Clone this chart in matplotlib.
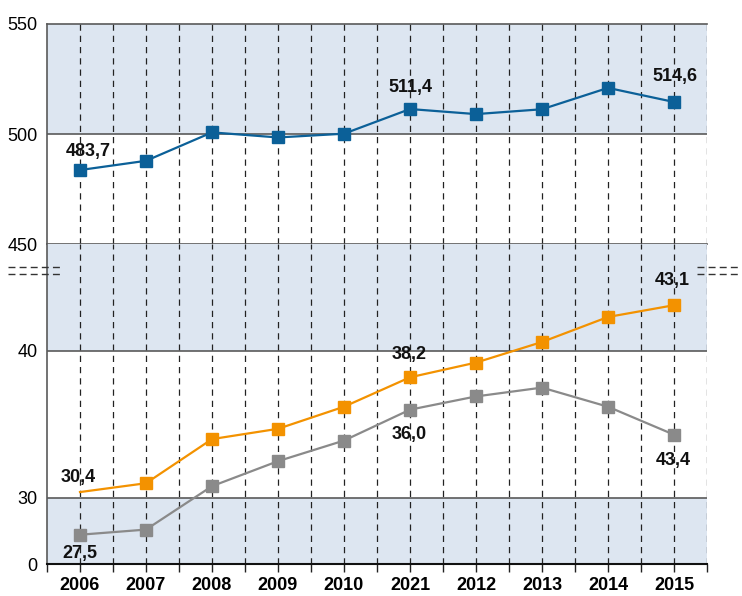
import numpy as np
import matplotlib.pyplot as plt
from matplotlib.lines import Line2D

# data
years = ['2006', '2007', '2008', '2009', '2010', '2021', '2012', '2013', '2014', '2015']
blue = [483.7, 487.9, 500.8, 498.5, 500.2, 511.4, 509.1, 511.3, 521.0, 514.6]
orange = [30.4, 31.0, 34.0, 34.7, 36.2, 38.2, 39.2, 40.6, 42.3, 43.1]
gray = [27.5, 27.85, 30.8, 32.5, 33.9, 36.0, 36.9, 37.5, 36.2, 34.3]

# labels as printed on the chart: (index, text, offset px)
labels_blue = [(0, '483,7', 8, 19), (5, '511,4', 0, 22), (9, '514,6', 1, 25)]
labels_orange = [(0, '30,4', -2, 15), (5, '38,2', -1, 23), (9, '43,1', -2, 25)]
labels_gray = [(0, '27,5', 0, -19), (5, '36,0', -1, -25), (9, '43,4', -1, -26)]

top_ticks = [450, 500, 550]
bot_ticks = [25.49, 30, 40]
bot_ticklabels = ['0', '30', '40']
bot_lim = (25.49, 47.24)

C_BLUE = '#0b6098'
C_ORANGE = '#f39200'
C_GRAY = '#8a8a8a'
C_BAND = '#dde6f1'
C_LINE = '#5a5a5a'

W, H = 742, 596
fig = plt.figure(figsize=(W / 100, H / 100), dpi=100)

def fx(px):
    return px / W

def fy(py):
    return 1 - py / H

left, right = 47, 707
ax_top = fig.add_axes([fx(left), fy(244.3), fx(right - left), fy(24) - fy(244.3)])
ax_bot = fig.add_axes([fx(left), fy(564.3), fx(right - left), fy(244.3) - fy(564.3)])

lab_font = ['Liberation Sans', 'DejaVu Sans']
x = np.arange(len(years))

for ax in (ax_top, ax_bot):
    ax.set_xlim(-0.5, len(years) - 0.5)
    for xv in np.arange(0, len(years), 0.5):
        ax.axvline(xv, color='#222222', lw=0.9, linestyle=(0, (5, 4)), zorder=1)
    ax.spines['right'].set_visible(False)
    ax.spines['left'].set_color(C_LINE)
    ax.spines['left'].set_linewidth(1.2)
    ax.tick_params(axis='y', length=0, pad=7)

# top panel
ax_top.set_ylim(450, 550)
ax_top.axhspan(500, 550, color=C_BAND, zorder=0, lw=0)
ax_top.axhline(500, color=C_LINE, lw=1.2, zorder=2)
for s in ('top', 'bottom'):
    ax_top.spines[s].set_color(C_LINE)
    ax_top.spines[s].set_linewidth(1.2)
ax_top.set_xticks([])
ax_top.set_yticks(top_ticks)
ax_top.set_yticklabels([str(t) for t in top_ticks], family=lab_font, fontsize=13)
ax_top.plot(x, blue, color=C_BLUE, lw=1.6, marker='s', markersize=8.5, zorder=4, clip_on=False)

# bottom panel
ax_bot.set_ylim(*bot_lim)
ax_bot.axhspan(40, bot_lim[1], color=C_BAND, zorder=0, lw=0)
ax_bot.axhspan(bot_lim[0], 30, color=C_BAND, zorder=0, lw=0)
ax_bot.axhline(40, color=C_LINE, lw=1.2, zorder=2)
ax_bot.axhline(30, color=C_LINE, lw=1.2, zorder=2)
ax_bot.spines['top'].set_visible(False)
ax_bot.spines['bottom'].set_color('#111111')
ax_bot.spines['bottom'].set_linewidth(1.5)
ax_bot.set_yticks(bot_ticks)
ax_bot.set_yticklabels(bot_ticklabels, family=lab_font, fontsize=13)
ax_bot.set_xticks(x)
ax_bot.set_xticklabels(years, family=lab_font, fontsize=13, fontweight='bold')
ax_bot.set_xticks(np.arange(-0.5, len(years), 1.0), minor=True)
ax_bot.tick_params(axis='x', which='both', length=6, width=1, color='#222222', pad=3)
ax_bot.plot(x, orange, color=C_ORANGE, lw=1.6, marker='s', markersize=8.5,
            markevery=list(range(1, len(years))), zorder=4)
ax_bot.plot(x, gray, color=C_GRAY, lw=1.6, marker='s', markersize=8.5, zorder=3)

def put_labels(ax, vals, labels):
    for i, txt, dx, dy in labels:
        ax.annotate(txt, (x[i], vals[i]), xytext=(dx * 0.72, dy * 0.72),
                    textcoords='offset points', ha='center', va='center',
                    family=lab_font, fontsize=13, fontweight='bold', color='#111111',
                    zorder=6)

put_labels(ax_top, blue, labels_blue)
put_labels(ax_bot, orange, labels_orange)
put_labels(ax_bot, gray, labels_gray)

# break marks
for yy in (266.7, 274):
    fig.add_artist(Line2D([fx(8), fx(62)], [fy(yy), fy(yy)], color='#333333', lw=1,
                          linestyle=(0, (5, 3))))
    fig.add_artist(Line2D([fx(697), fx(740)], [fy(yy), fy(yy)], color='#333333', lw=1,
                          linestyle=(0, (5, 3))))

fig.savefig('out.png', dpi=100)
